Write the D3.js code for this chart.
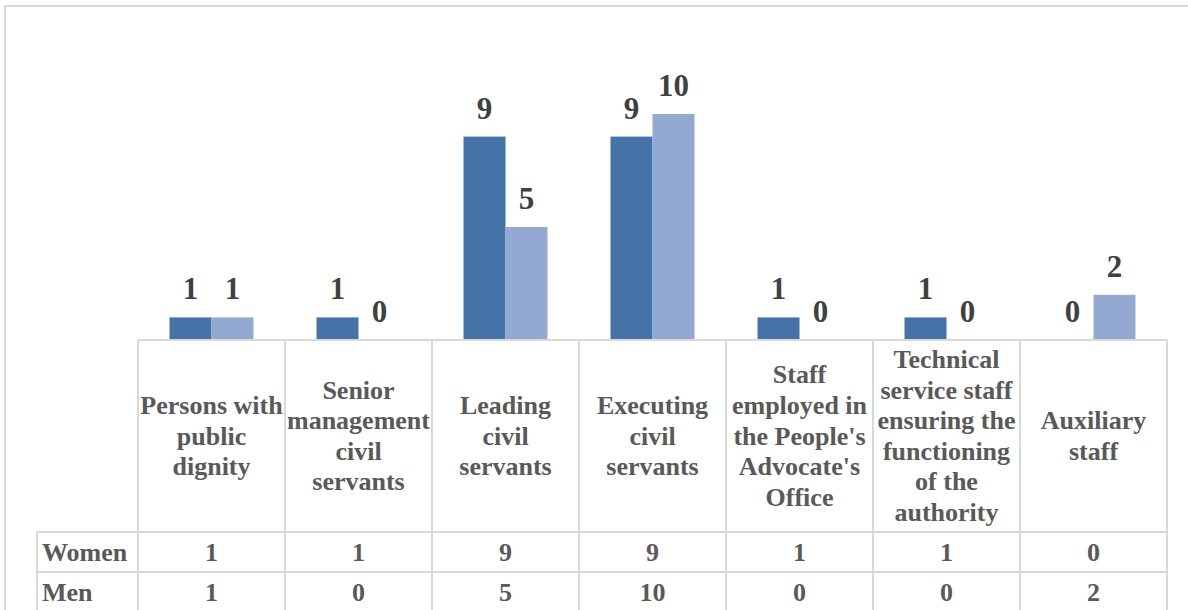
<!DOCTYPE html>
<html>
<head>
<meta charset="utf-8">
<script src="https://cdnjs.cloudflare.com/ajax/libs/d3/7.8.5/d3.min.js"></script>
<style>
  body { margin: 0; background: #fff; }
  svg { display: block; }
</style>
</head>
<body>
<div id="chart"></div>
<script>
// Data
const categories = [
    "Persons with public dignity",
    "Senior management civil servants",
    "Leading civil servants",
    "Executing civil servants",
    "Staff employed in the People's Advocate's Office",
    "Technical service staff ensuring the functioning of the authority",
    "Auxiliary staff"
];
const categoryLines = [
    ["Persons with", "public", "dignity"],
    ["Senior", "management", "civil", "servants"],
    ["Leading", "civil", "servants"],
    ["Executing", "civil", "servants"],
    ["Staff", "employed in", "the People's", "Advocate's", "Office"],
    ["Technical", "service staff", "ensuring the", "functioning", "of the", "authority"],
    ["Auxiliary", "staff"]
];
const seriesNames = ["Women", "Men"];
const women = [1, 1, 9, 9, 1, 1, 0];
const men = [1, 0, 5, 10, 0, 0, 2];

const width = 1188, height = 610;
const font = "'Liberation Serif', 'Times New Roman', 'DejaVu Serif', serif";
const colors = {Women: "#4572a7", Men: "#94a9d1"};
const gridColor = "#d9d9d9";

const svg = d3.select("#chart").append("svg")
    .attr("width", width)
    .attr("height", height);

// Outer chart border (right and bottom fall outside the picture)
svg.append("rect")
    .attr("x", 5).attr("y", 6)
    .attr("width", width + 10).attr("height", height + 10)
    .attr("fill", "none")
    .attr("stroke", gridColor)
    .attr("stroke-width", 2);

// Scales
const plot = {left: 138, right: 1167, baseline: 340, headerBottom: 532};

const x = d3.scaleBand()
    .domain(categories)
    .range([plot.left, plot.right])
    .padding(0);

const xSeries = d3.scaleBand()
    .domain(seriesNames)
    .range([0, x.bandwidth()])
    .paddingInner(0)
    .paddingOuter(0.75);

const y = d3.scaleLinear()
    .domain([0, 12])
    .range([plot.baseline, plot.baseline - 12 * 22.6]);

const rows = categories.map((c, i) => ({cat: c, values: [
    {key: "Women", value: women[i]},
    {key: "Men", value: men[i]}
]}));

// Bars
const groups = svg.append("g").selectAll("g")
    .data(rows)
    .join("g")
    .attr("transform", d => `translate(${x(d.cat)},0)`);

groups.selectAll("rect")
    .data(d => d.values)
    .join("rect")
    .attr("x", d => xSeries(d.key))
    .attr("y", d => y(d.value))
    .attr("width", xSeries.bandwidth())
    .attr("height", d => y(0) - y(d.value))
    .attr("fill", d => colors[d.key]);

// Data labels
groups.selectAll("text")
    .data(d => d.values)
    .join("text")
    .attr("x", d => xSeries(d.key) + xSeries.bandwidth() / 2)
    .attr("y", d => y(d.value) - 18)
    .attr("text-anchor", "middle")
    .style("font-family", font)
    .style("font-weight", "bold")
    .style("font-size", "31px")
    .style("fill", "#404040")
    .text(d => d.value);

// Data table
const rowTop = {Women: 532, Men: 572};
const rowHeight = 40;
const tableLeft = 37;
const table = svg.append("g")
    .attr("stroke", gridColor)
    .attr("stroke-width", 2);

// horizontal lines
table.append("line")
    .attr("x1", plot.left).attr("x2", plot.right)
    .attr("y1", plot.baseline).attr("y2", plot.baseline);
seriesNames.forEach(s => {
    table.append("line")
        .attr("x1", tableLeft).attr("x2", plot.right)
        .attr("y1", rowTop[s]).attr("y2", rowTop[s]);
    table.append("line")
        .attr("x1", tableLeft).attr("x2", plot.right)
        .attr("y1", rowTop[s] + rowHeight).attr("y2", rowTop[s] + rowHeight);
});

// vertical lines
const bounds = categories.map(c => x(c)).concat([x.range()[1]]);
table.selectAll(".vline")
    .data(bounds)
    .join("line")
    .attr("class", "vline")
    .attr("x1", d => d).attr("x2", d => d)
    .attr("y1", plot.baseline).attr("y2", height + 5);
table.append("line")
    .attr("x1", tableLeft).attr("x2", tableLeft)
    .attr("y1", plot.headerBottom).attr("y2", height + 5);

// category headers
const headerCenter = (plot.baseline + plot.headerBottom) / 2;
const lineH = 30.6;
const headers = svg.append("g").selectAll("text")
    .data(rows)
    .join("text")
    .attr("text-anchor", "middle")
    .style("font-family", font)
    .style("font-weight", "bold")
    .style("font-size", "26px")
    .style("fill", "#595959");

headers.each(function(d, i) {
    const lines = categoryLines[i];
    const cx = x(d.cat) + x.bandwidth() / 2;
    d3.select(this).selectAll("tspan")
        .data(lines)
        .join("tspan")
        .attr("x", cx)
        .attr("y", (l, j) => headerCenter + 8.5 + (j - (lines.length - 1) / 2) * lineH)
        .text(l => l);
});

// row labels and values
seriesNames.forEach(s => {
    const base = rowTop[s] + 29;
    svg.append("text")
        .attr("x", 42)
        .attr("y", base)
        .style("font-family", font)
        .style("font-weight", "bold")
        .style("font-size", "26px")
        .style("fill", "#595959")
        .text(s);

    svg.append("g").selectAll("text")
        .data(rows)
        .join("text")
        .attr("x", d => x(d.cat) + x.bandwidth() / 2)
        .attr("y", base)
        .attr("text-anchor", "middle")
        .style("font-family", font)
        .style("font-weight", "bold")
        .style("font-size", "26px")
        .style("fill", "#595959")
        .text(d => d.values.find(v => v.key === s).value);
});
</script>
</body>
</html>
